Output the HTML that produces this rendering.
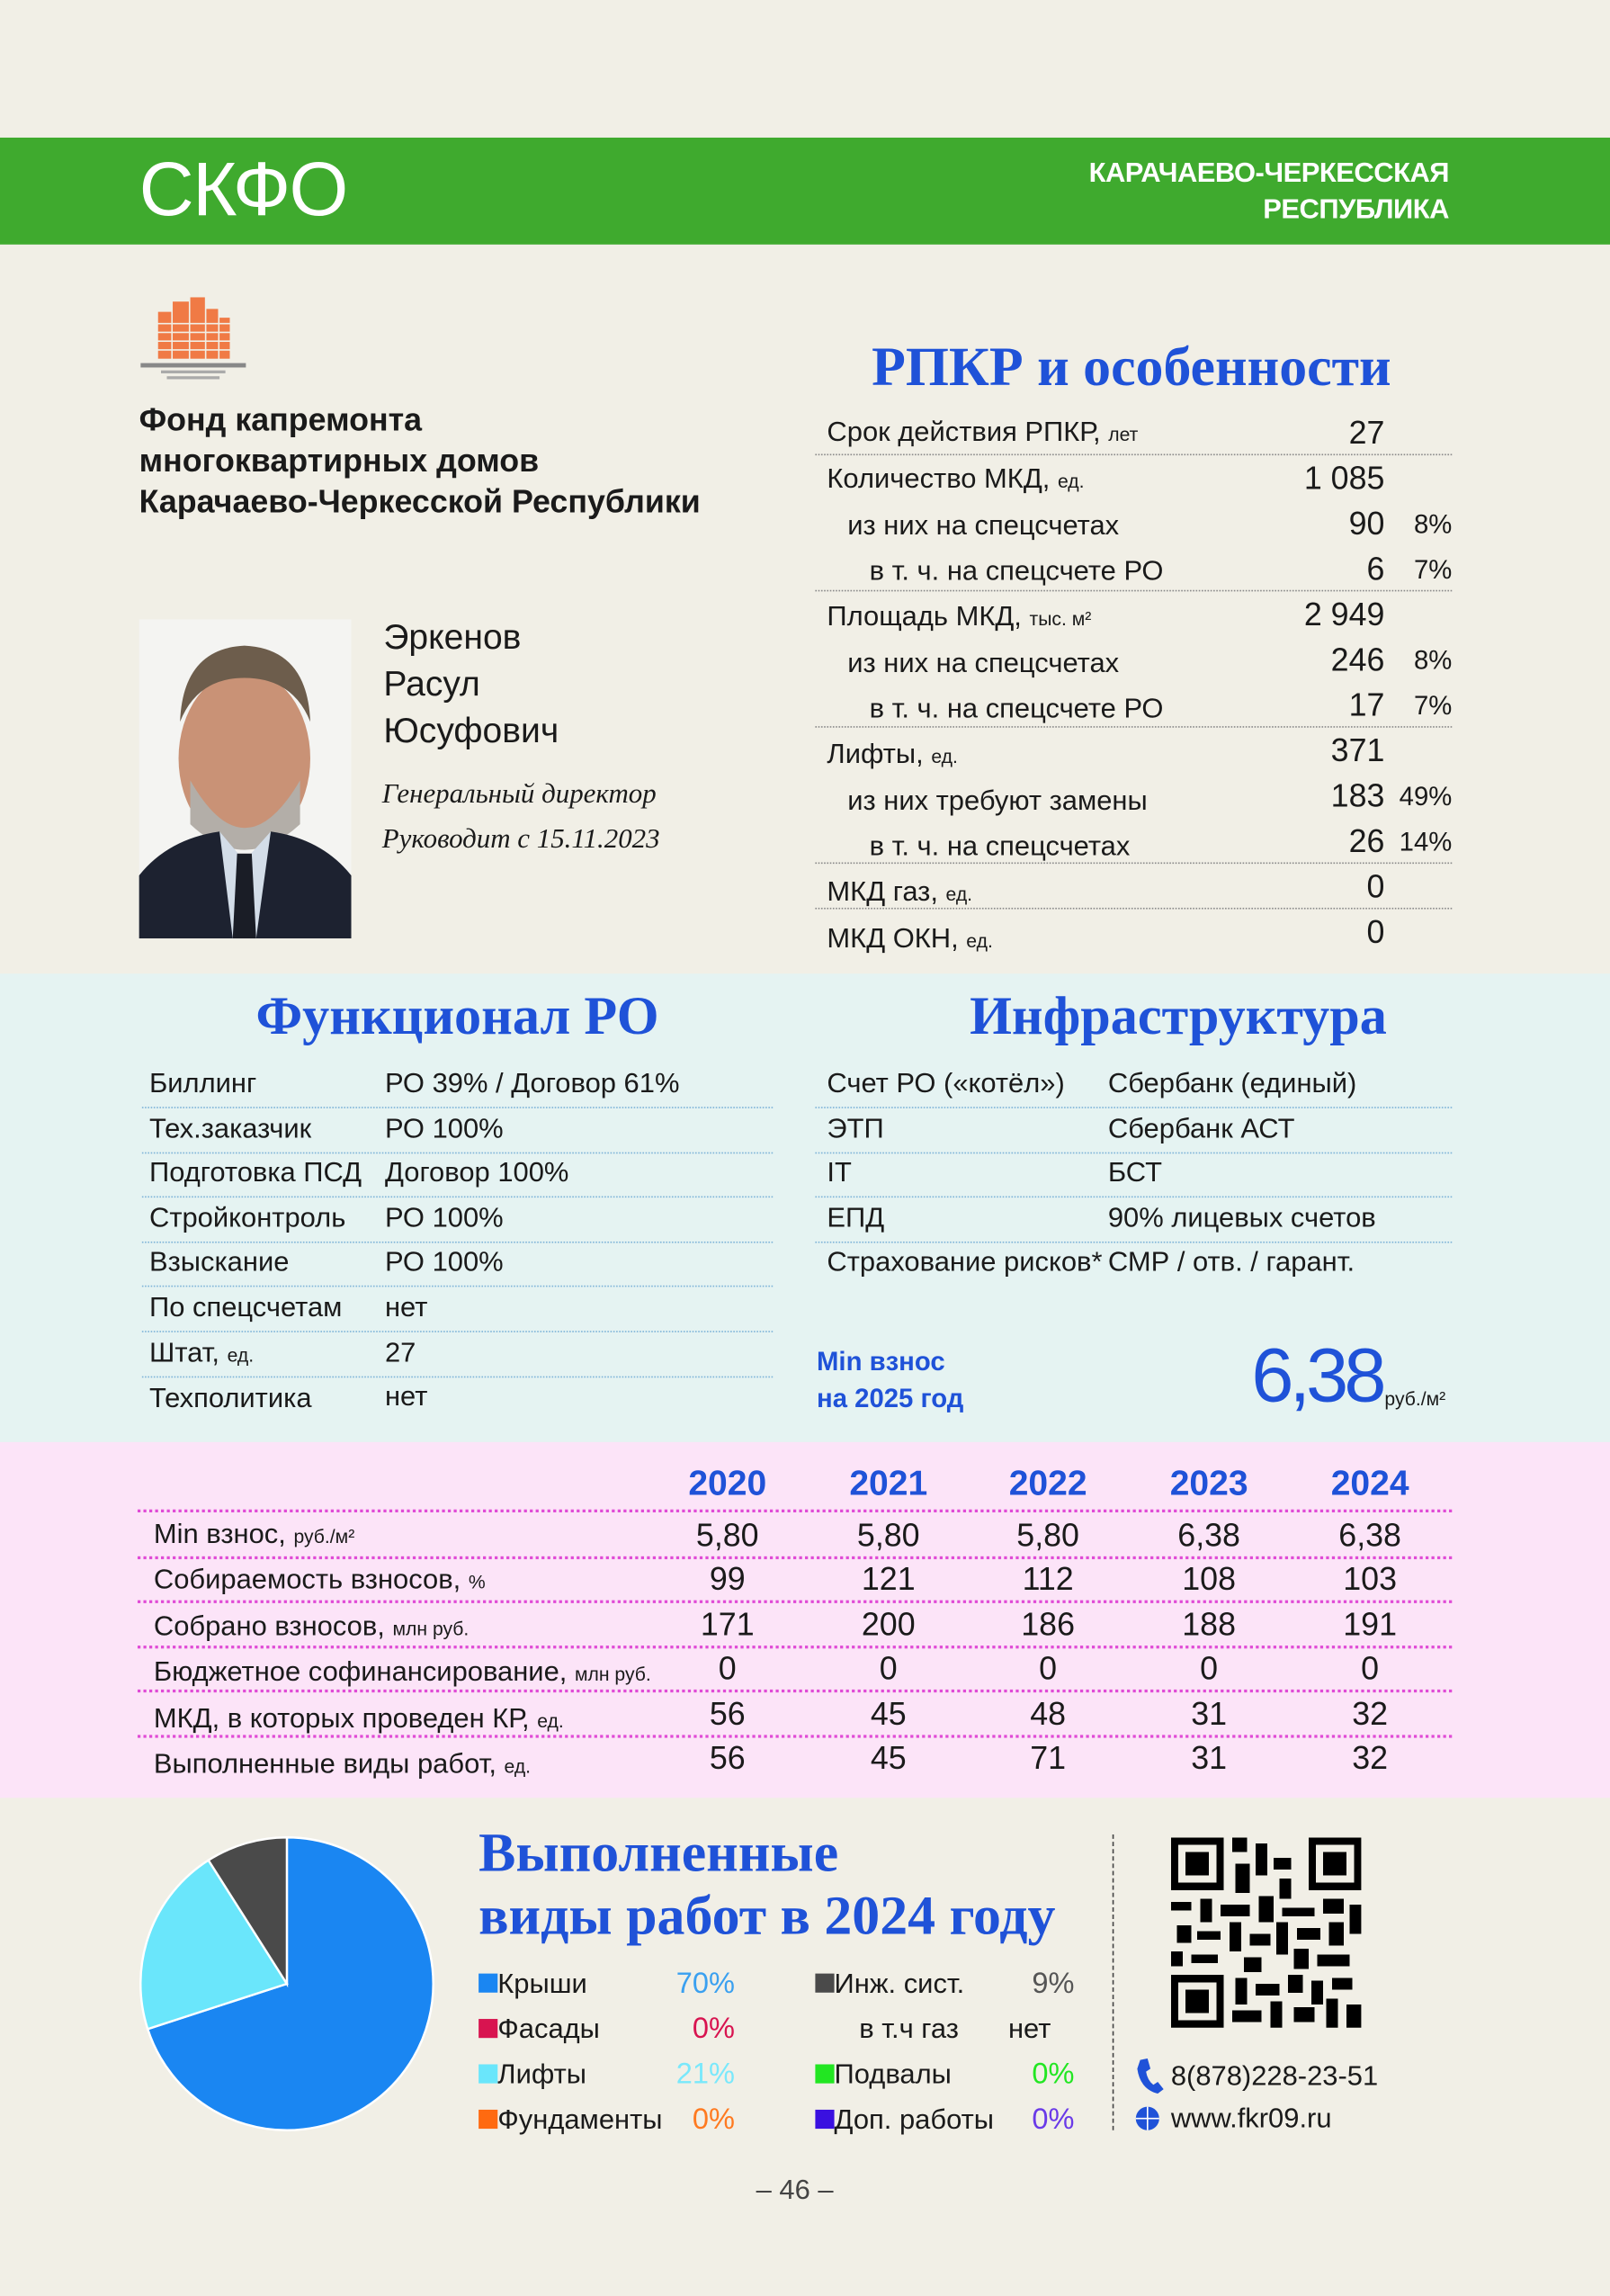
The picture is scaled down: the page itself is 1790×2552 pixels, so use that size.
<!DOCTYPE html>
<html><head><meta charset="utf-8">
<style>
html,body{margin:0;padding:0;width:1790px;height:2552px;overflow:hidden;background:#f1efe6}
#w{position:absolute;left:0;top:0;width:1100px;height:1568px;transform:scale(1.6273);transform-origin:0 0;font-family:"Liberation Sans","Noto Sans CJK SC",sans-serif;color:#1a1a1a}
.t{position:absolute;white-space:nowrap}
.r{text-align:right}
.c{text-align:center}
.s{font-size:13px}
.ser{font-family:"Liberation Serif","Noto Serif CJK SC",serif;font-weight:bold;color:#1f52d8}
.dl{position:absolute;height:0;border-top:1.5px dotted #8a8a8a}
.bl{position:absolute;height:0;border-top:1.5px dotted #7fb4d8}
.pl{position:absolute;height:0;border-top:2px dotted #e04bd6}
</style></head><body><div id="w">
<div style="position:absolute;left:0;top:94px;width:1100px;height:73px;background:#3faa2e"></div>
<div class="t" style="left:95px;top:100px;font-size:52px;line-height:60px;color:#fff;font-weight:300;letter-spacing:-1px">СКФО</div>
<div class="t r" style="right:110px;top:106px;font-size:19px;line-height:25px;color:#fff;font-weight:bold;letter-spacing:-0.3px">КАРАЧАЕВО-ЧЕРКЕССКАЯ<br>РЕСПУБЛИКА</div>

<svg style="position:absolute;left:96px;top:203px" width="74" height="56">
<g fill="#f07a45"><rect x="12" y="10" width="9" height="32"/><rect x="22" y="3" width="11" height="39"/><rect x="34" y="0" width="10" height="42"/><rect x="45" y="8" width="8" height="34"/><rect x="54" y="14" width="7" height="28"/></g>
<g stroke="#f1efe6" stroke-width="1"><line x1="10" y1="18" x2="62" y2="18"/><line x1="10" y1="24" x2="62" y2="24"/><line x1="10" y1="30" x2="62" y2="30"/><line x1="10" y1="36" x2="62" y2="36"/></g>
<rect x="0" y="45" width="72" height="3" fill="#888"/><rect x="14" y="50" width="44" height="2" fill="#aaa"/><rect x="18" y="54" width="36" height="2" fill="#aaa"/>
</svg>
<div class="t" style="left:95px;top:273px;font-size:22px;line-height:28px;font-weight:bold">Фонд капремонта<br>многоквартирных домов<br>Карачаево-Черкесской Республики</div>

<svg style="position:absolute;left:95px;top:423px" width="145" height="218">
<rect width="145" height="218" fill="#f4f4f2"/>
<ellipse cx="72" cy="95" rx="45" ry="60" fill="#c99276"/>
<path d="M28 70 Q30 20 72 18 Q115 20 117 70 Q105 40 72 40 Q40 40 28 70Z" fill="#6d5d4c"/>
<path d="M35 110 Q72 175 110 110 L110 140 Q72 175 35 140Z" fill="#b3aea8"/>
<path d="M0 218 L0 175 Q20 150 55 145 L72 218Z" fill="#1d2230"/>
<path d="M145 218 L145 175 Q125 150 90 145 L72 218Z" fill="#1d2230"/>
<path d="M55 145 L72 165 L90 145 L80 218 L64 218Z" fill="#d3dde8"/>
<path d="M67 160 L77 160 L80 218 L64 218Z" fill="#1a1d26"/>
</svg>
<div class="t" style="left:262px;top:420px;font-size:24px;line-height:32px">Эркенов<br>Расул<br>Юсуфович</div>
<div class="t" style="left:261px;top:527px;font-size:19px;line-height:31px;font-family:'Liberation Serif',serif;font-style:italic">Генеральный директор<br>Руководит с 15.11.2023</div>

<div class="t ser c" style="left:560px;width:426px;top:228px;font-size:38px;line-height:46px">РПКР и особенности</div>
<div style="position:absolute;left:565px;top:280px;font-size:19px;line-height:31px">
<div>Срок действия РПКР, <span class="s">лет</span></div>
<div>Количество МКД, <span class="s">ед.</span></div>
<div style="padding-left:14px">из них на спецсчетах</div>
<div style="padding-left:29px">в т. ч. на спецсчете РО</div>
<div>Площадь МКД, <span class="s">тыс. м²</span></div>
<div style="padding-left:14px">из них на спецсчетах</div>
<div style="padding-left:29px">в т. ч. на спецсчете РО</div>
<div>Лифты, <span class="s">ед.</span></div>
<div style="padding-left:14px">из них требуют замены</div>
<div style="padding-left:29px">в т. ч. на спецсчетах</div>
<div>МКД газ, <span class="s">ед.</span></div>
<div>МКД ОКН, <span class="s">ед.</span></div>
</div>
<div class="t r" style="left:846px;width:100px;top:280px;font-size:22px;line-height:31px">27<br>1 085<br>90<br>6<br>2 949<br>246<br>17<br>371<br>183<br>26<br>0<br>0</div>
<div class="t r" style="left:940px;width:52px;top:343px;font-size:18px;line-height:31px">8%<br>7%<br><br>8%<br>7%<br><br>49%<br>14%</div>
<div class="dl" style="left:557px;width:435px;top:310px"></div>
<div class="dl" style="left:557px;width:435px;top:403px"></div>
<div class="dl" style="left:557px;width:435px;top:496px"></div>
<div class="dl" style="left:557px;width:435px;top:589px"></div>
<div class="dl" style="left:557px;width:435px;top:620px"></div>

<div style="position:absolute;left:0;top:665px;width:1100px;height:320px;background:#e5f3f2"></div>
<div class="t ser c" style="left:100px;width:425px;top:673px;font-size:37px;line-height:44px">Функционал РО</div>
<div class="t ser c" style="left:590px;width:430px;top:673px;font-size:37px;line-height:44px">Инфраструктура</div>
<div class="t" style="left:102px;top:726px;font-size:19px;line-height:30.6px">Биллинг<br>Тех.заказчик<br>Подготовка ПСД<br>Стройконтроль<br>Взыскание<br>По спецсчетам<br>Штат, <span class="s">ед.</span><br>Техполитика</div>
<div class="t" style="left:263px;top:726px;font-size:19px;line-height:30.6px">РО 39% / Договор 61%<br>РО 100%<br>Договор 100%<br>РО 100%<br>РО 100%<br>нет<br>27<br>нет</div>
<div class="bl" style="left:97px;width:431px;top:756px"></div>
<div class="bl" style="left:97px;width:431px;top:787px"></div>
<div class="bl" style="left:97px;width:431px;top:817px"></div>
<div class="bl" style="left:97px;width:431px;top:848px"></div>
<div class="bl" style="left:97px;width:431px;top:878px"></div>
<div class="bl" style="left:97px;width:431px;top:909px"></div>
<div class="bl" style="left:97px;width:431px;top:940px"></div>
<div class="t" style="left:565px;top:726px;font-size:19px;line-height:30.6px">Счет РО («котёл»)<br>ЭТП<br>IT<br>ЕПД<br>Страхование рисков*</div>
<div class="t" style="left:757px;top:726px;font-size:19px;line-height:30.6px">Сбербанк (единый)<br>Сбербанк АСТ<br>БСТ<br>90% лицевых счетов<br>СМР / отв. / гарант.</div>
<div class="bl" style="left:557px;width:435px;top:756px"></div>
<div class="bl" style="left:557px;width:435px;top:787px"></div>
<div class="bl" style="left:557px;width:435px;top:817px"></div>
<div class="bl" style="left:557px;width:435px;top:848px"></div>
<div class="t" style="left:558px;top:918px;font-size:18px;line-height:25px;font-weight:bold;color:#1f52d8">Min взнос<br>на 2025 год</div>
<div class="t" style="left:855px;top:910px;font-size:52px;line-height:60px;color:#1f52d8;letter-spacing:-3px">6,38</div>
<div class="t" style="left:946px;top:948px;font-size:13px;line-height:16px">руб./м²</div>

<div style="position:absolute;left:0;top:985px;width:1100px;height:243px;background:#fce4f8"></div>
<div class="t c" style="left:452px;width:90px;top:1000px;font-size:24px;line-height:28px;font-weight:bold;color:#1f52d8">2020</div>
<div class="t c" style="left:562px;width:90px;top:1000px;font-size:24px;line-height:28px;font-weight:bold;color:#1f52d8">2021</div>
<div class="t c" style="left:671px;width:90px;top:1000px;font-size:24px;line-height:28px;font-weight:bold;color:#1f52d8">2022</div>
<div class="t c" style="left:781px;width:90px;top:1000px;font-size:24px;line-height:28px;font-weight:bold;color:#1f52d8">2023</div>
<div class="t c" style="left:891px;width:90px;top:1000px;font-size:24px;line-height:28px;font-weight:bold;color:#1f52d8">2024</div>
<div class="t" style="left:105px;top:1034px;font-size:19px;line-height:30.4px">Min взнос, <span class="s">руб./м²</span><br>Собираемость взносов, <span class="s">%</span><br>Собрано взносов, <span class="s">млн руб.</span><br>Бюджетное софинансирование, <span class="s">млн руб.</span><br>МКД, в которых проведен КР, <span class="s">ед.</span><br>Выполненные виды работ, <span class="s">ед.</span></div>
<div class="t c" style="left:452px;width:90px;top:1034px;font-size:22px;line-height:30.4px">5,80<br>99<br>171<br>0<br>56<br>56</div>
<div class="t c" style="left:562px;width:90px;top:1034px;font-size:22px;line-height:30.4px">5,80<br>121<br>200<br>0<br>45<br>45</div>
<div class="t c" style="left:671px;width:90px;top:1034px;font-size:22px;line-height:30.4px">5,80<br>112<br>186<br>0<br>48<br>71</div>
<div class="t c" style="left:781px;width:90px;top:1034px;font-size:22px;line-height:30.4px">6,38<br>108<br>188<br>0<br>31<br>31</div>
<div class="t c" style="left:891px;width:90px;top:1034px;font-size:22px;line-height:30.4px">6,38<br>103<br>191<br>0<br>32<br>32</div>
<div class="pl" style="left:94px;width:898px;top:1031px"></div>
<div class="pl" style="left:94px;width:898px;top:1063px"></div>
<div class="pl" style="left:94px;width:898px;top:1093px"></div>
<div class="pl" style="left:94px;width:898px;top:1124px"></div>
<div class="pl" style="left:94px;width:898px;top:1154px"></div>
<div class="pl" style="left:94px;width:898px;top:1185px"></div>

<svg style="position:absolute;left:94px;top:1253px" width="204" height="204">
<g transform="translate(102,102)" stroke="#fff" stroke-width="1.5">
<path d="M0 0 L0 -100 A100 100 0 1 1 -95.1 30.9 Z" fill="#1a86f2"/>
<path d="M0 0 L-95.1 30.9 A100 100 0 0 1 -53.6 -84.4 Z" fill="#6ae6fb"/>
<path d="M0 0 L-53.6 -84.4 A100 100 0 0 1 0 -100 Z" fill="#4a4a4a"/>
</g></svg>
<div class="t ser" style="left:327px;top:1245px;font-size:38px;line-height:43px">Выполненные<br>виды работ в 2024 году</div>
<div style="position:absolute;left:327px;top:1340px;font-size:19px;line-height:31px">
<div><span style="display:inline-block;width:13px;height:13px;background:#1a86f2"></span>Крыши</div>
<div><span style="display:inline-block;width:13px;height:13px;background:#d81450"></span>Фасады</div>
<div><span style="display:inline-block;width:13px;height:13px;background:#6ae6fb"></span>Лифты</div>
<div><span style="display:inline-block;width:13px;height:13px;background:#ff6a10"></span>Фундаменты</div>
</div>
<div class="t r" style="left:440px;width:62px;top:1340px;font-size:20px;line-height:31px"><span style="color:#3aa0f0">70%</span><br><span style="color:#d81450">0%</span><br><span style="color:#7ae8fb">21%</span><br><span style="color:#ff7a20">0%</span></div>
<div style="position:absolute;left:557px;top:1340px;font-size:19px;line-height:31px">
<div><span style="display:inline-block;width:13px;height:13px;background:#4a4a4a"></span>Инж. сист.</div>
<div style="padding-left:30px">в т.ч газ</div>
<div><span style="display:inline-block;width:13px;height:13px;background:#22e622"></span>Подвалы</div>
<div><span style="display:inline-block;width:13px;height:13px;background:#3a10e0"></span>Доп. работы</div>
</div>
<div class="t r" style="left:672px;width:62px;top:1340px;font-size:20px;line-height:31px"><span style="color:#555">9%</span><br><span style="font-size:19px;color:#1a1a1a;position:relative;left:-16px">нет</span><br><span style="color:#22e622">0%</span><br><span style="color:#6a3ae8">0%</span></div>
<div style="position:absolute;left:760px;top:1253px;height:202px;border-left:1.5px dashed #444"></div>

<svg style="position:absolute;left:800px;top:1255px" width="130" height="130" shape-rendering="crispEdges">
<rect width="130" height="130" fill="#f1efe6"/>
<g fill="#000">
<rect x="0" y="0" width="36" height="36"/><rect x="0" y="94" width="36" height="36"/><rect x="94" y="0" width="36" height="36"/>
</g>
<g fill="#f1efe6"><rect x="5" y="5" width="26" height="26"/><rect x="5" y="99" width="26" height="26"/><rect x="99" y="5" width="26" height="26"/></g>
<g fill="#000"><rect x="10" y="10" width="16" height="16"/><rect x="10" y="104" width="16" height="16"/><rect x="104" y="10" width="16" height="16"/>
<rect x="42" y="0" width="10" height="10"/><rect x="58" y="4" width="8" height="22"/><rect x="44" y="18" width="10" height="20"/><rect x="70" y="14" width="12" height="8"/><rect x="74" y="28" width="8" height="14"/>
<rect x="0" y="44" width="14" height="6"/><rect x="20" y="42" width="8" height="16"/><rect x="34" y="46" width="20" height="8"/><rect x="60" y="40" width="10" height="18"/><rect x="76" y="48" width="22" height="6"/><rect x="104" y="42" width="14" height="10"/><rect x="122" y="46" width="8" height="20"/>
<rect x="4" y="60" width="10" height="12"/><rect x="18" y="64" width="16" height="6"/><rect x="40" y="58" width="8" height="20"/><rect x="54" y="66" width="14" height="8"/><rect x="72" y="58" width="8" height="22"/><rect x="86" y="62" width="16" height="8"/><rect x="108" y="58" width="10" height="16"/>
<rect x="0" y="78" width="8" height="10"/><rect x="14" y="80" width="18" height="6"/><rect x="50" y="82" width="12" height="10"/><rect x="84" y="76" width="10" height="14"/><rect x="100" y="80" width="22" height="8"/>
<rect x="44" y="96" width="8" height="18"/><rect x="58" y="100" width="16" height="8"/><rect x="80" y="94" width="10" height="12"/><rect x="96" y="98" width="8" height="16"/><rect x="110" y="96" width="14" height="8"/>
<rect x="42" y="118" width="20" height="8"/><rect x="68" y="112" width="8" height="18"/><rect x="84" y="116" width="14" height="10"/><rect x="106" y="110" width="8" height="20"/><rect x="120" y="114" width="10" height="16"/>
</g></svg>
<svg style="position:absolute;left:775px;top:1405px" width="20" height="26"><path d="M4 2 L9 1 L11 8 L8 10 Q9 16 13 19 L16 17 L20 22 L16 25 Q4 22 2 8Z" fill="#1f52d8"/></svg>
<div class="t" style="left:800px;top:1406px;font-size:19px;line-height:26px">8(878)228-23-51</div>
<svg style="position:absolute;left:775px;top:1438px" width="18" height="18"><circle cx="9" cy="9" r="8" fill="#1f52d8"/><path d="M1 9 H17 M9 1 V17" stroke="#fff" stroke-width="1"/></svg>
<div class="t" style="left:800px;top:1435px;font-size:19px;line-height:26px">www.fkr09.ru</div>

<div class="t c" style="left:493px;width:100px;top:1486px;font-size:19px;line-height:22px;color:#444">– 46 –</div>
</div></body></html>
